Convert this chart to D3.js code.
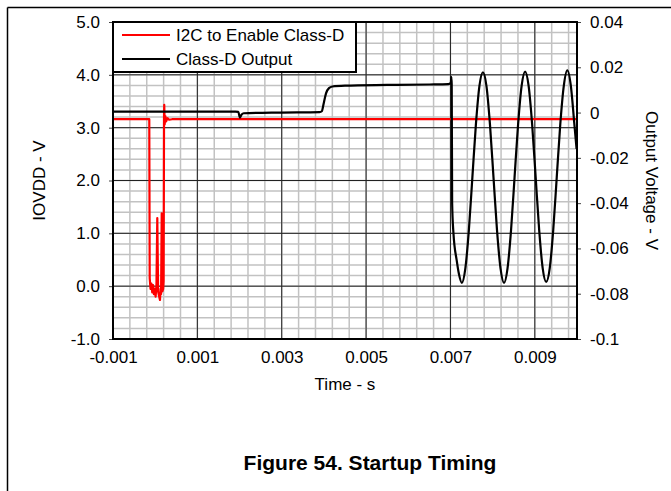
<!DOCTYPE html>
<html>
<head>
<meta charset="utf-8">
<script src="https://cdn.jsdelivr.net/npm/d3@7"></script>
<style>
  body { margin: 0; background: #fff; }
  text { font-family: Arial, "Liberation Sans", sans-serif; fill: #000; }
</style>
</head>
<body>
<div id="chart"></div>
<script>
var w = 671, h = 491;

// tick values + labels
var timeTicks = [-0.001, 0.001, 0.003, 0.005, 0.007, 0.009];
var timeLabels = ['-0.001', '0.001', '0.003', '0.005', '0.007', '0.009'];
var iovddTicks = [-1, 0, 1, 2, 3, 4, 5];
var iovddLabels = ['-1.0', '0.0', '1.0', '2.0', '3.0', '4.0', '5.0'];
var outTicks = [-0.1, -0.08, -0.06, -0.04, -0.02, 0, 0.02, 0.04];
var outLabels = ['-0.1', '-0.08', '-0.06', '-0.04', '-0.02', '0', '0.02', '0.04'];

var seriesNames = ['I2C to Enable Class-D', 'Class-D Output'];

// I2C to Enable Class-D  (IOVDD, left axis)
var i2cTime = [-0.001, -0.00014, -0.00013, -0.00011, -0.00009, -0.00007, -0.00005, -0.00003,
  -0.00001, 0.00001, 0.00003, 0.00005, 0.00007, 0.00009, 0.000114, 0.00013, 0.00014,
  0.000155, 0.00017, 0.00019, 0.0002, 0.00021, 0.000215, 0.000225, 0.00024, 0.00026,
  0.00029, 0.00033, 0.0004, 0.010];
var i2cVolt = [3.16, 3.16, 0.15, -0.05, 0.05, -0.12, 0.02, -0.15,
  -0.05, -0.2, 0.0, 1.29, -0.1, -0.18, -0.26, -0.05, -0.15,
  1.38, -0.1, -0.05, 0.1, 3.2, 3.43, 3.06, 3.22, 3.12,
  3.18, 3.15, 3.16, 3.16];

// Class-D Output (right axis)
var outTime = [-0.001, 0.0019, 0.00197, 0.00201, 0.00205, 0.0021, 0.003, 0.0039,
  0.00395, 0.004, 0.00405, 0.00412, 0.0042, 0.0045, 0.0055, 0.0065, 0.00695,
  0.00701, 0.00702, 0.00703, 0.00704, 0.00707, 0.00715, 0.0072,
  0.00727, 0.007353, 0.007437, 0.00752, 0.007603, 0.007687, 0.00777, 0.007853,
  0.007937, 0.00802, 0.008103, 0.008187, 0.00827, 0.008353, 0.008437, 0.00852,
  0.008603, 0.008687, 0.00877, 0.008853, 0.008937, 0.00902, 0.009103, 0.009187,
  0.00927, 0.009353, 0.009437, 0.00952, 0.009603, 0.009687, 0.00977, 0.009853,
  0.009937, 0.00999];
var outVolt = [0.0004, 0.0004, 0.0003, -0.0022, -0.0008, -0.0003, 0.0, 0.0002,
  0.0006, 0.0045, 0.0085, 0.0108, 0.0115, 0.0119, 0.0122, 0.0124, 0.0126,
  0.0132, 0.0158, 0.0125, -0.04, -0.053, -0.0655, -0.0712,
  -0.0752, -0.0688, -0.0518, -0.0285, -0.0053, 0.0118, 0.0178, 0.0118,
  -0.0053, -0.0285, -0.0518, -0.0688, -0.0752, -0.0688, -0.0518, -0.0285,
  -0.0053, 0.0118, 0.0181, 0.0118, -0.0053, -0.0285, -0.0518, -0.0688,
  -0.0748, -0.0688, -0.0518, -0.0285, -0.0053, 0.0118, 0.0187, 0.012,
  -0.005, -0.016];

var plot = { left: 113, right: 577, top: 22, bottom: 339 };

function init() {
  var svg = d3.select('#chart').append('svg')
    .attr('width', w)
    .attr('height', h);

  // page frame (top + left rule)
  svg.append('line').attr('x1', 7.5).attr('x2', w).attr('y1', 7.5).attr('y2', 7.5)
    .attr('stroke', '#000').attr('stroke-width', 1.5);
  svg.append('line').attr('x1', 7.5).attr('x2', 7.5).attr('y1', 7.5).attr('y2', h)
    .attr('stroke', '#000').attr('stroke-width', 1.5);

  var x = d3.scaleLinear().domain([-0.001, 0.010]).range([plot.left, plot.right]);
  var yL = d3.scaleLinear().domain([-1, 5]).range([plot.bottom, plot.top]);
  var yR = d3.scaleLinear().domain([-0.1, 0.04]).range([plot.bottom, plot.top]);

  var g = svg.append('g');

  //minor grid
  var xMinor = d3.range(-0.0006, 0.00999, 0.0004);
  var yMinor = d3.range(-0.8, 4.99, 0.2);
  g.selectAll('line.xminor').data(xMinor).enter().append('line')
    .attr('class', 'xminor')
    .attr('x1', function (d) { return x(d); }).attr('x2', function (d) { return x(d); })
    .attr('y1', plot.top).attr('y2', plot.bottom)
    .attr('stroke', '#c2c2c2').attr('stroke-width', 1.5);
  g.selectAll('line.yminor').data(yMinor).enter().append('line')
    .attr('class', 'yminor')
    .attr('x1', plot.left).attr('x2', plot.right)
    .attr('y1', function (d) { return yL(d); }).attr('y2', function (d) { return yL(d); })
    .attr('stroke', '#c2c2c2').attr('stroke-width', 1.5);

  //major grid
  g.selectAll('line.xmajor').data(timeTicks).enter().append('line')
    .attr('class', 'xmajor')
    .attr('x1', function (d) { return x(d); }).attr('x2', function (d) { return x(d); })
    .attr('y1', plot.top).attr('y2', plot.bottom)
    .attr('stroke', '#222').attr('stroke-width', 1);
  g.selectAll('line.ymajor').data(iovddTicks).enter().append('line')
    .attr('class', 'ymajor')
    .attr('x1', plot.left).attr('x2', plot.right)
    .attr('y1', function (d) { return yL(d); }).attr('y2', function (d) { return yL(d); })
    .attr('stroke', '#222').attr('stroke-width', 1);

  // axes
  var axisL = d3.axisLeft(yL).tickValues(iovddTicks).tickSize(4).tickPadding(9)
    .tickFormat(function (d, i) { return iovddLabels[i]; });
  var axisR = d3.axisRight(yR).tickValues(outTicks).tickSize(4).tickPadding(9)
    .tickFormat(function (d, i) { return outLabels[i]; });
  var axisB = d3.axisBottom(x).tickValues(timeTicks).tickSize(0).tickPadding(12)
    .tickFormat(function (d, i) { return timeLabels[i]; });

  [[axisL, 'translate(' + plot.left + ',0)'],
   [axisR, 'translate(' + plot.right + ',0)'],
   [axisB, 'translate(0,' + plot.bottom + ')']].forEach(function (a) {
    var ax = svg.append('g').attr('transform', a[1]).call(a[0]);
    ax.select('.domain').remove();
    ax.selectAll('line').attr('stroke', '#444');
    ax.selectAll('text').style('font-size', '17px').attr('font-family', 'Arial, Liberation Sans, sans-serif');
  });

  // data
  svg.append('clipPath').attr('id', 'clip').append('rect')
    .attr('x', plot.left).attr('y', plot.top - 6)
    .attr('width', plot.right - plot.left).attr('height', plot.bottom - plot.top + 6);

  var i2cLine = d3.line()
    .x(function (d, i) { return x(i2cTime[i]); })
    .y(function (d) { return yL(d); });
  var outLine = d3.line()
    .x(function (d, i) { return x(outTime[i]); })
    .y(function (d) { return yR(d); })
    .curve(d3.curveMonotoneX);

  var data = svg.append('g').attr('clip-path', 'url(#clip)');
  data.append('path').attr('d', i2cLine(i2cVolt))
    .attr('fill', 'none').attr('stroke', '#ff0000').attr('stroke-width', 2.2)
    .attr('stroke-linejoin', 'round');
  data.append('path').attr('d', outLine(outVolt))
    .attr('fill', 'none').attr('stroke', '#000').attr('stroke-width', 2.2)
    .attr('stroke-linejoin', 'round');

  // plot frame
  svg.append('rect').attr('x', plot.left).attr('y', plot.top)
    .attr('width', plot.right - plot.left).attr('height', plot.bottom - plot.top)
    .attr('fill', 'none').attr('stroke', '#000').attr('stroke-width', 2);

  // legend
  var leg = svg.append('g');
  leg.append('rect').attr('x', plot.left).attr('y', plot.top)
    .attr('width', 243).attr('height', 50)
    .attr('fill', '#fff').attr('stroke', '#000').attr('stroke-width', 2);
  var legColors = ['#ff0000', '#000'];
  seriesNames.forEach(function (name, i) {
    var ly = plot.top + 13 + i * 24;
    leg.append('line').attr('x1', plot.left + 9).attr('x2', plot.left + 57)
      .attr('y1', ly).attr('y2', ly)
      .attr('stroke', legColors[i]).attr('stroke-width', 2.2);
    leg.append('text').attr('x', plot.left + 63).attr('y', ly + 6)
      .style('font-size', '17px').text(name);
  });

  // axis titles
  svg.append('text')
    .attr('transform', 'translate(45,' + (plot.top + plot.bottom) / 2 + ') rotate(-90)')
    .attr('text-anchor', 'middle').style('font-size', '17px').text('IOVDD - V');
  svg.append('text')
    .attr('transform', 'translate(646,' + (plot.top + plot.bottom) / 2 + ') rotate(90)')
    .attr('text-anchor', 'middle').style('font-size', '17px').text('Output Voltage - V');
  svg.append('text')
    .attr('x', (plot.left + plot.right) / 2).attr('y', 390)
    .attr('text-anchor', 'middle').style('font-size', '17px').text('Time - s');

  // figure caption
  svg.append('text')
    .attr('x', 370).attr('y', 470)
    .attr('text-anchor', 'middle').style('font-size', '21px').style('font-weight', 'bold')
    .text('Figure 54. Startup Timing');
}

window.onload = init;
</script>
</body>
</html>
